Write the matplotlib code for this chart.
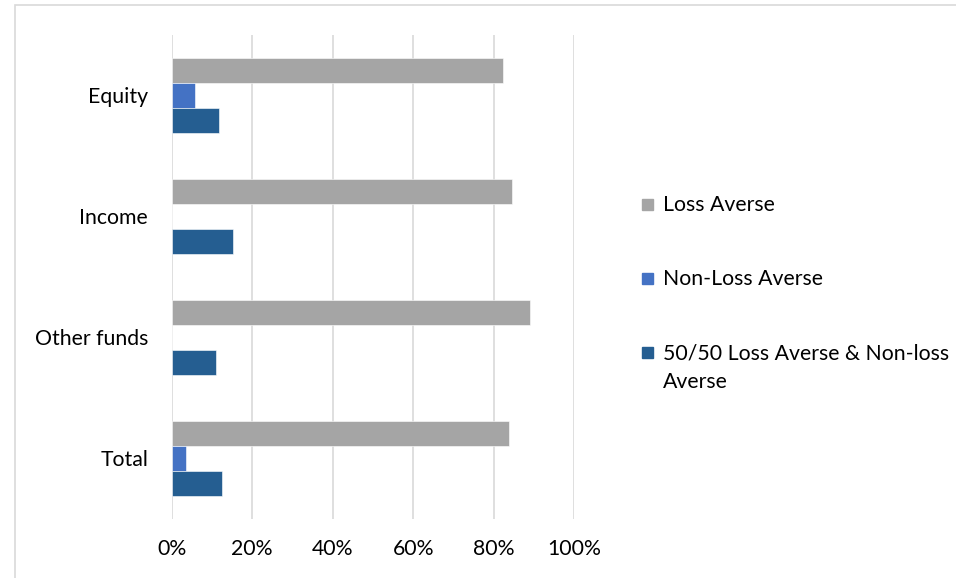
import matplotlib.pyplot as plt
import numpy as np
from matplotlib.ticker import MultipleLocator, PercentFormatter
from matplotlib.patches import Rectangle

plt.rcParams['font.family'] = ['Lato', 'DejaVu Sans']

categories = ["Equity", "Income", "Other funds", "Total"]
series_names = ["Loss Averse", "Non-Loss Averse", "50/50 Loss Averse & Non-loss\nAverse"]
loss_averse = [0.823, 0.845, 0.889, 0.839]
non_loss_averse = [0.058, 0.0, 0.0, 0.035]
fifty_fifty = [0.117, 0.153, 0.110, 0.124]
colors = ["#A5A5A5", "#4472C4", "#255E91"]

W, H = 956, 578
FS = 15.3
fig = plt.figure(figsize=(W / 100, H / 100), dpi=100)
ax = fig.add_axes([171.7 / W, 1 - 518.5 / H, 402.5 / W, 484 / H])

y = np.arange(len(categories))
bh = 25 / 121
for i, vals in enumerate([loss_averse, non_loss_averse, fifty_fifty]):
    ax.barh(y + (i - 1) * bh, vals, height=bh, color=colors[i],
            edgecolor="white", linewidth=0.4, zorder=3)

ax.set_xlim(0, 1)
ax.set_ylim(len(categories) - 0.5, -0.5)
ax.xaxis.set_major_locator(MultipleLocator(0.2))
ax.xaxis.set_major_formatter(PercentFormatter(1.0, decimals=0))
ax.set_yticks(y)
ax.set_yticklabels(categories)
ax.grid(axis="x", color="#d9d9d9", linewidth=1.2, zorder=0)
for s in ax.spines.values():
    s.set_visible(False)
ax.tick_params(axis="both", length=0, labelsize=FS, colors="black")
ax.tick_params(axis="x", pad=15)
ax.tick_params(axis="y", pad=17)

# legend drawn by hand, entries spaced like the original
leg_y = [204, 278, 352]
for name, c, yy in zip(series_names, colors, leg_y):
    fig.patches.append(Rectangle((642 / W, 1 - (yy + 5.5) / H), 11 / W, 11 / H,
                                 transform=fig.transFigure, color=c))
    fig.text(663 / W, 1 - (yy + 7) / H, name.split("\n")[0], fontsize=FS,
             va="baseline", ha="left")
    if "\n" in name:
        fig.text(663 / W, 1 - (yy + 36) / H, name.split("\n")[1], fontsize=FS,
                 va="baseline", ha="left")

# chart border (right and bottom edges fall outside the image)
fig.patches.append(Rectangle((15 / W, -0.05), 1.0, 1 - 4.5 / H + 0.05,
                             transform=fig.transFigure, fill=False,
                             edgecolor="#d9d9d9", linewidth=1.2))

fig.savefig("out.png", dpi=100)
